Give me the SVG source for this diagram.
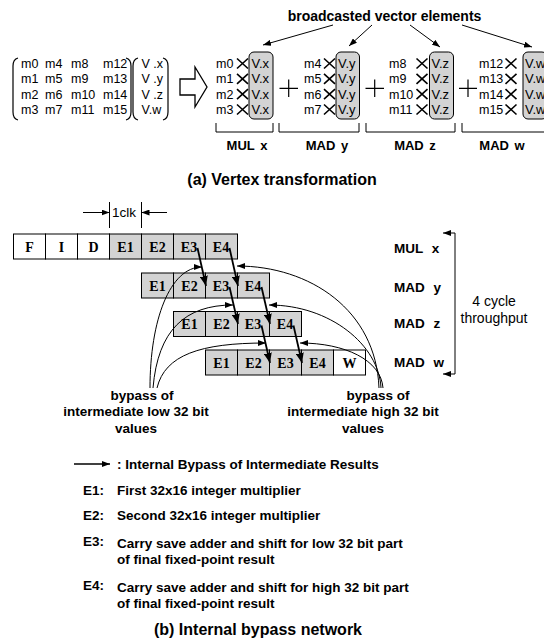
<svg xmlns="http://www.w3.org/2000/svg" width="544" height="640" viewBox="0 0 544 640">
<defs>
<marker id="ah" markerUnits="userSpaceOnUse" markerWidth="8" markerHeight="6" refX="8" refY="3" orient="auto"><path d="M0,0 L8,3 L0,6 z" fill="#000"/></marker>
<marker id="ahb" markerUnits="userSpaceOnUse" markerWidth="10" markerHeight="8" refX="10" refY="4" orient="auto"><path d="M0,0 L10,4 L0,8 z" fill="#000"/></marker>
<style>
text{font-family:"Liberation Sans",Arial,sans-serif;fill:#000}
.m{font-size:12.5px}
.v{font-size:13px}
.b{font-weight:bold}
.lab{font-size:13px;font-weight:bold;word-spacing:2px}
.plab{font-size:13.5px;font-weight:bold;word-spacing:5px}
.ttl{font-size:16px;font-weight:bold;text-anchor:middle}
.leg{font-size:13.5px;font-weight:bold}
.cell{font-family:"Liberation Serif","Times New Roman",serif;font-size:14px;font-weight:bold;text-anchor:middle}
.g{fill:#d3d3d3;stroke:#000;stroke-width:1}
.w{fill:#fff;stroke:#000;stroke-width:1}
.vb{fill:#d3d3d3;stroke:#000;stroke-width:1}
.x{stroke:#000;stroke-width:1.6;fill:none}
.ln{stroke:#000;stroke-width:1;fill:none}
.thk{stroke:#000;stroke-width:1.8;fill:none}
.br{stroke:#000;stroke-width:1.2;fill:none}
</style>
</defs>
<rect width="544" height="640" fill="#fff"/>

<!-- (a) Vertex transformation -->
<g id="matrix">
<path class="br" d="M18,58 C14,59 13,62 13,66 V112 C13,116 14,119 18,120"/>
<path class="br" d="M126,58 C130,59 131,62 131,66 V112 C131,116 130,119 126,120"/>
<text class="m" x="21" y="68">m0</text><text class="m" x="45" y="68">m4</text><text class="m" x="71" y="68">m8</text><text class="m" x="103" y="68">m12</text>
<text class="m" x="21" y="83.3">m1</text><text class="m" x="45" y="83.3">m5</text><text class="m" x="71" y="83.3">m9</text><text class="m" x="103" y="83.3">m13</text>
<text class="m" x="21" y="98.7">m2</text><text class="m" x="45" y="98.7">m6</text><text class="m" x="71" y="98.7">m10</text><text class="m" x="103" y="98.7">m14</text>
<text class="m" x="21" y="114">m3</text><text class="m" x="45" y="114">m7</text><text class="m" x="71" y="114">m11</text><text class="m" x="103" y="114">m15</text>
</g>
<g id="vector">
<path class="br" d="M138,58 C134,59 133,62 133,66 V112 C133,116 134,119 138,120"/>
<path class="br" d="M163,58 C167,59 168,62 168,66 V112 C168,116 167,119 163,120"/>
<text class="m" x="141.5" y="68" xml:space="preserve">V .x</text>
<text class="m" x="141.5" y="83.3" xml:space="preserve">V .y</text>
<text class="m" x="141.5" y="98.7" xml:space="preserve">V .z</text>
<text class="m" x="141.5" y="114">V.w</text>
</g>
<g id="hollow-arrow">
<polygon points="180,79 195,79 195,67 207,87 195,107 195,95 180,95" fill="#fff" stroke="#000" stroke-width="1.3" stroke-linejoin="miter"/>
</g>

<g id="group-mul-x">
<text class="m" x="216" y="68">m0</text><text class="m" x="216" y="83.3">m1</text><text class="m" x="216" y="98.7">m2</text><text class="m" x="216" y="114">m3</text>
<path class="x" d="M237,58.5 l11,10 M248,58.5 l-11,10 M237,73.8 l11,10 M248,73.8 l-11,10 M237,89.2 l11,10 M248,89.2 l-11,10 M237,104.5 l11,10 M248,104.5 l-11,10"/>
<rect class="vb" x="249" y="52" width="24" height="67" rx="5"/>
<text class="v" x="251.5" y="68">V.x</text><text class="v" x="251.5" y="83.3">V.x</text><text class="v" x="251.5" y="98.7">V.x</text><text class="v" x="251.5" y="114">V.x</text>
<path class="ln" d="M216,123 V132 H273 V123"/>
<text class="lab" x="247" y="150" text-anchor="middle">MUL x</text>
</g>
<g id="plus1"><path class="br" d="M279.5,88.3 H298 M288.7,79.5 V97" stroke-width="1.5"/></g>
<g id="group-mad-y">
<text class="m" x="304" y="68">m4</text><text class="m" x="304" y="83.3">m5</text><text class="m" x="304" y="98.7">m6</text><text class="m" x="304" y="114">m7</text>
<path class="x" d="M324,58.5 l11,10 M335,58.5 l-11,10 M324,73.8 l11,10 M335,73.8 l-11,10 M324,89.2 l11,10 M335,89.2 l-11,10 M324,104.5 l11,10 M335,104.5 l-11,10"/>
<rect class="vb" x="336" y="52" width="23.5" height="67" rx="5"/>
<text class="v" x="338" y="68">V.y</text><text class="v" x="338" y="83.3">V.y</text><text class="v" x="338" y="98.7">V.y</text><text class="v" x="338" y="114">V.y</text>
<path class="ln" d="M279,123 V132 H359 V123"/>
<text class="lab" x="327" y="150" text-anchor="middle">MAD y</text>
</g>
<g id="plus2"><path class="br" d="M365.5,88.3 H384 M374.7,79.5 V97" stroke-width="1.5"/></g>
<g id="group-mad-z">
<text class="m" x="389" y="68">m8</text><text class="m" x="389" y="83.3">m9</text><text class="m" x="389" y="98.7">m10</text><text class="m" x="389" y="114">m11</text>
<path class="x" d="M416.5,58.5 l11,10 M427.5,58.5 l-11,10 M416.5,73.8 l11,10 M427.5,73.8 l-11,10 M416.5,89.2 l11,10 M427.5,89.2 l-11,10 M416.5,104.5 l11,10 M427.5,104.5 l-11,10"/>
<rect class="vb" x="429.5" y="52" width="24" height="67" rx="5"/>
<text class="v" x="431.5" y="68">V.z</text><text class="v" x="431.5" y="83.3">V.z</text><text class="v" x="431.5" y="98.7">V.z</text><text class="v" x="431.5" y="114">V.z</text>
<path class="ln" d="M366,123 V132 H455 V123"/>
<text class="lab" x="415" y="150" text-anchor="middle">MAD z</text>
</g>
<g id="plus3"><path class="br" d="M459,88.3 H477 M468,79.5 V97" stroke-width="1.5"/></g>
<g id="group-mad-w">
<text class="m" x="479" y="68">m12</text><text class="m" x="479" y="83.3">m13</text><text class="m" x="479" y="98.7">m14</text><text class="m" x="479" y="114">m15</text>
<path class="x" d="M505.5,58.5 l11,10 M516.5,58.5 l-11,10 M505.5,73.8 l11,10 M516.5,73.8 l-11,10 M505.5,89.2 l11,10 M516.5,89.2 l-11,10 M505.5,104.5 l11,10 M516.5,104.5 l-11,10"/>
<rect class="vb" x="523" y="52" width="24" height="67" rx="5"/>
<text class="v" x="525" y="68">V.w</text><text class="v" x="525" y="83.3">V.w</text><text class="v" x="525" y="98.7">V.w</text><text class="v" x="525" y="114">V.w</text>
<path class="ln" d="M462,123 V132 H548"/>
<text class="lab" x="502" y="150" text-anchor="middle">MAD w</text>
</g>
<g id="broadcast-label">
<text class="b" x="384.5" y="21" font-size="14" text-anchor="middle">broadcasted vector elements</text>
</g>
<text class="ttl" x="282" y="185">(a) Vertex transformation</text>

<!-- (b) pipeline -->
<g id="clk-marker">
<path class="ln" d="M109.5,202 V228 M141.5,202 V228"/>
<text x="112" y="217" font-size="13.5">1clk</text>
</g>
<g id="row-mul-x">
<rect class="w" x="13.5" y="234" width="32" height="25"/><text class="cell" x="29.5" y="251.5">F</text>
<rect class="w" x="45.5" y="234" width="32" height="25"/><text class="cell" x="61.5" y="251.5">I</text>
<rect class="w" x="77.5" y="234" width="32" height="25"/><text class="cell" x="93.5" y="251.5">D</text>
<rect class="g" x="109.5" y="234" width="32" height="25"/><text class="cell" x="125.5" y="251.5">E1</text>
<rect class="g" x="141.5" y="234" width="32" height="25"/><text class="cell" x="157.5" y="251.5">E2</text>
<rect class="g" x="173.5" y="234" width="32" height="25"/><text class="cell" x="189" y="251.5">E3</text>
<rect class="g" x="205.5" y="234" width="32" height="25"/><text class="cell" x="221" y="251.5">E4</text>
</g>
<g id="row-mad-y">
<rect class="g" x="141.5" y="273" width="32" height="25"/><text class="cell" x="157.5" y="290.5">E1</text>
<rect class="g" x="173.5" y="273" width="32" height="25"/><text class="cell" x="189.5" y="290.5">E2</text>
<rect class="g" x="205.5" y="273" width="32" height="25"/><text class="cell" x="221" y="290.5">E3</text>
<rect class="g" x="237.5" y="273" width="32" height="25"/><text class="cell" x="253" y="290.5">E4</text>
</g>
<g id="row-mad-z">
<rect class="g" x="173.5" y="311.5" width="32" height="25"/><text class="cell" x="189.5" y="329">E1</text>
<rect class="g" x="205.5" y="311.5" width="32" height="25"/><text class="cell" x="221.5" y="329">E2</text>
<rect class="g" x="237.5" y="311.5" width="32" height="25"/><text class="cell" x="253" y="329">E3</text>
<rect class="g" x="269.5" y="311.5" width="32" height="25"/><text class="cell" x="285" y="329">E4</text>
</g>
<g id="row-mad-w">
<rect class="g" x="205.5" y="350" width="32" height="25"/><text class="cell" x="221.5" y="367.5">E1</text>
<rect class="g" x="237.5" y="350" width="32" height="25"/><text class="cell" x="253.5" y="367.5">E2</text>
<rect class="g" x="269.5" y="350" width="32" height="25"/><text class="cell" x="285.5" y="367.5">E3</text>
<rect class="g" x="301.5" y="350" width="32" height="25"/><text class="cell" x="317.5" y="367.5">E4</text>
<rect class="w" x="333.5" y="350" width="32" height="25"/><text class="cell" x="349.5" y="367.5">W</text>
</g>
<g id="row-labels">
<text class="plab" x="394" y="252.5">MUL x</text>
<text class="plab" x="394" y="291.5">MAD y</text>
<text class="plab" x="394" y="328">MAD z</text>
<text class="plab" x="394" y="367">MAD w</text>
</g>
<g id="throughput-label">
<text x="494" y="306" font-size="14" text-anchor="middle">4 cycle</text>
<text x="494" y="322.5" font-size="14" text-anchor="middle">throughput</text>
</g>
<g id="low-label">
<text class="leg" x="142" y="400" text-anchor="middle">bypass of</text>
<text class="leg" x="136" y="416" text-anchor="middle">intermediate low 32 bit</text>
<text class="leg" x="136" y="433" text-anchor="middle">values</text>
</g>
<g id="high-label">
<text class="leg" x="378" y="400" text-anchor="middle">bypass of</text>
<text class="leg" x="363" y="416" text-anchor="middle">intermediate high 32 bit</text>
<text class="leg" x="363" y="433" text-anchor="middle">values</text>
</g>

<g id="connectors">
<!-- broadcast arrows -->
<path class="ln" d="M333,25 L263,45" marker-end="url(#ah)"/>
<path class="ln" d="M372,25 L349,46" marker-end="url(#ah)"/>
<path class="ln" d="M410,25 L440,47" marker-end="url(#ah)"/>
<path class="ln" d="M462,25 L532,47" marker-end="url(#ah)"/>
<!-- 1clk arrows -->
<path class="ln" d="M83,212.5 H109.5" marker-end="url(#ah)"/>
<path class="ln" d="M167,212.5 H141.5" marker-end="url(#ah)"/>
<!-- throughput bracket -->
<path class="ln" d="M455,233 V374"/>
<path class="ln" d="M455,233 H443" marker-end="url(#ah)"/>
<path class="ln" d="M455,374 H443" marker-end="url(#ah)"/>
<!-- internal bypass thick arrows -->
<path class="thk" d="M197.5,248 L206,286" marker-end="url(#ahb)"/>
<path class="thk" d="M229.5,248 L238,286" marker-end="url(#ahb)"/>
<path class="thk" d="M229.5,287 L238,324" marker-end="url(#ahb)"/>
<path class="thk" d="M261.5,287 L270,324" marker-end="url(#ahb)"/>
<path class="thk" d="M261.5,325.5 L270,363" marker-end="url(#ahb)"/>
<path class="thk" d="M293.5,325.5 L302,363" marker-end="url(#ahb)"/>
<!-- low 32 bit bypass curves -->
<path class="ln" d="M150,388 C150,320 170,267 202,267" marker-end="url(#ah)"/>
<path class="ln" d="M153,388 C158,330 185,305 233,305" marker-end="url(#ah)"/>
<path class="ln" d="M157,388 C165,355 200,343 266,343" marker-end="url(#ah)"/>
<!-- high 32 bit bypass curves -->
<path class="ln" d="M379,388 C376,310 310,266 237,266" marker-end="url(#ah)"/>
<path class="ln" d="M381,388 C379,345 330,305 269,305" marker-end="url(#ah)"/>
<path class="ln" d="M383,388 C381,360 345,343 300,343" marker-end="url(#ah)"/>
</g>

<g id="legend">
<path d="M74,464 H110" stroke="#000" stroke-width="1.5" marker-end="url(#ah)"/>
<text class="leg" x="117" y="468.5">: Internal Bypass of Intermediate Results</text>
<text class="leg" x="83" y="494.5">E1:</text><text class="leg" x="117" y="494.5">First 32x16 integer multiplier</text>
<text class="leg" x="83" y="519.5">E2:</text><text class="leg" x="117" y="519.5">Second 32x16 integer multiplier</text>
<text class="leg" x="83" y="546">E3:</text><text class="leg" x="117" y="547.5">Carry save adder and shift for low 32 bit part</text>
<text class="leg" x="117" y="563.5">of final fixed-point result</text>
<text class="leg" x="83" y="590">E4:</text><text class="leg" x="117" y="591.5">Carry save adder and shift for high 32 bit part</text>
<text class="leg" x="117" y="607.5">of final fixed-point result</text>
</g>
<text class="ttl" x="258" y="634.5">(b) Internal bypass network</text>
</svg>
